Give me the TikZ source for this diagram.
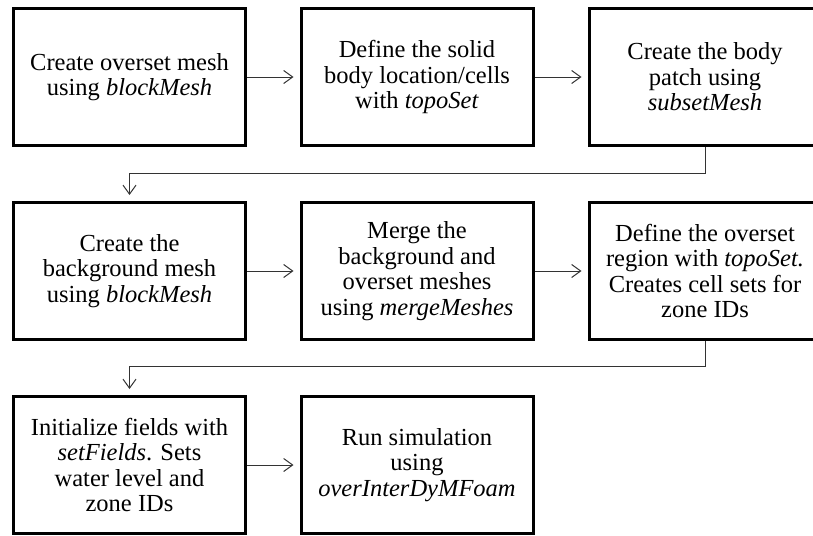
\documentclass[tikz,border=0pt]{standalone}
\usepackage{fontspec}
\setmainfont{Liberation Serif}
\usetikzlibrary{arrows.meta}
\begin{document}
\begin{tikzpicture}[x=1pt,y=-1pt,
  stepbox/.style={draw=black, line width=3pt, minimum width=232pt, minimum height=137pt,
    align=center, inner sep=0pt, font=\fontsize{24.5pt}{25.5pt}\selectfont},
  link/.style={draw=black!80, line width=1pt,
    -{Straight Barb[length=9pt,width=13pt,line width=1pt]}, shorten >=6pt}]
\useasboundingbox (0,0) rectangle (813,535);
\clip (0,0) rectangle (813,535);
\node[stepbox] (b1) at (129.5,77) {Create overset mesh\\using \textit{blockMesh}};
\node[stepbox] (b2) at (417,77) {Define the solid\\body location/cells\\with \textit{topoSet}};
\node[stepbox] (b3) at (705,77) {Create the body\\patch using\\\textit{subsetMesh}};
\node[stepbox] (b4) at (129.5,271) {Create the\\background mesh\\using \textit{blockMesh}};
\node[stepbox] (b5) at (417,271) {Merge the\\background and\\overset meshes\\using \textit{mergeMeshes}};
\node[stepbox] (b6) at (705,271) {Define the overset\\region with \textit{topoSet.}\\Creates cell sets for\\zone IDs};
\node[stepbox] (b7) at (129.5,465) {Initialize fields with\\\textit{setFields}. Sets\\water level and\\zone IDs};
\node[stepbox] (b8) at (417,465) {Run simulation\\using\\\textit{overInterDyMFoam}};
\draw[link] (b1.east) -- (b2.west);
\draw[link] (b2.east) -- (b3.west);
\draw[link] (b3.south) -- ++(0,26) -| (b4.north);
\draw[link] (b4.east) -- (b5.west);
\draw[link] (b5.east) -- (b6.west);
\draw[link] (b6.south) -- ++(0,25) -| (b7.north);
\draw[link] (b7.east) -- (b8.west);
\end{tikzpicture}
\end{document}
